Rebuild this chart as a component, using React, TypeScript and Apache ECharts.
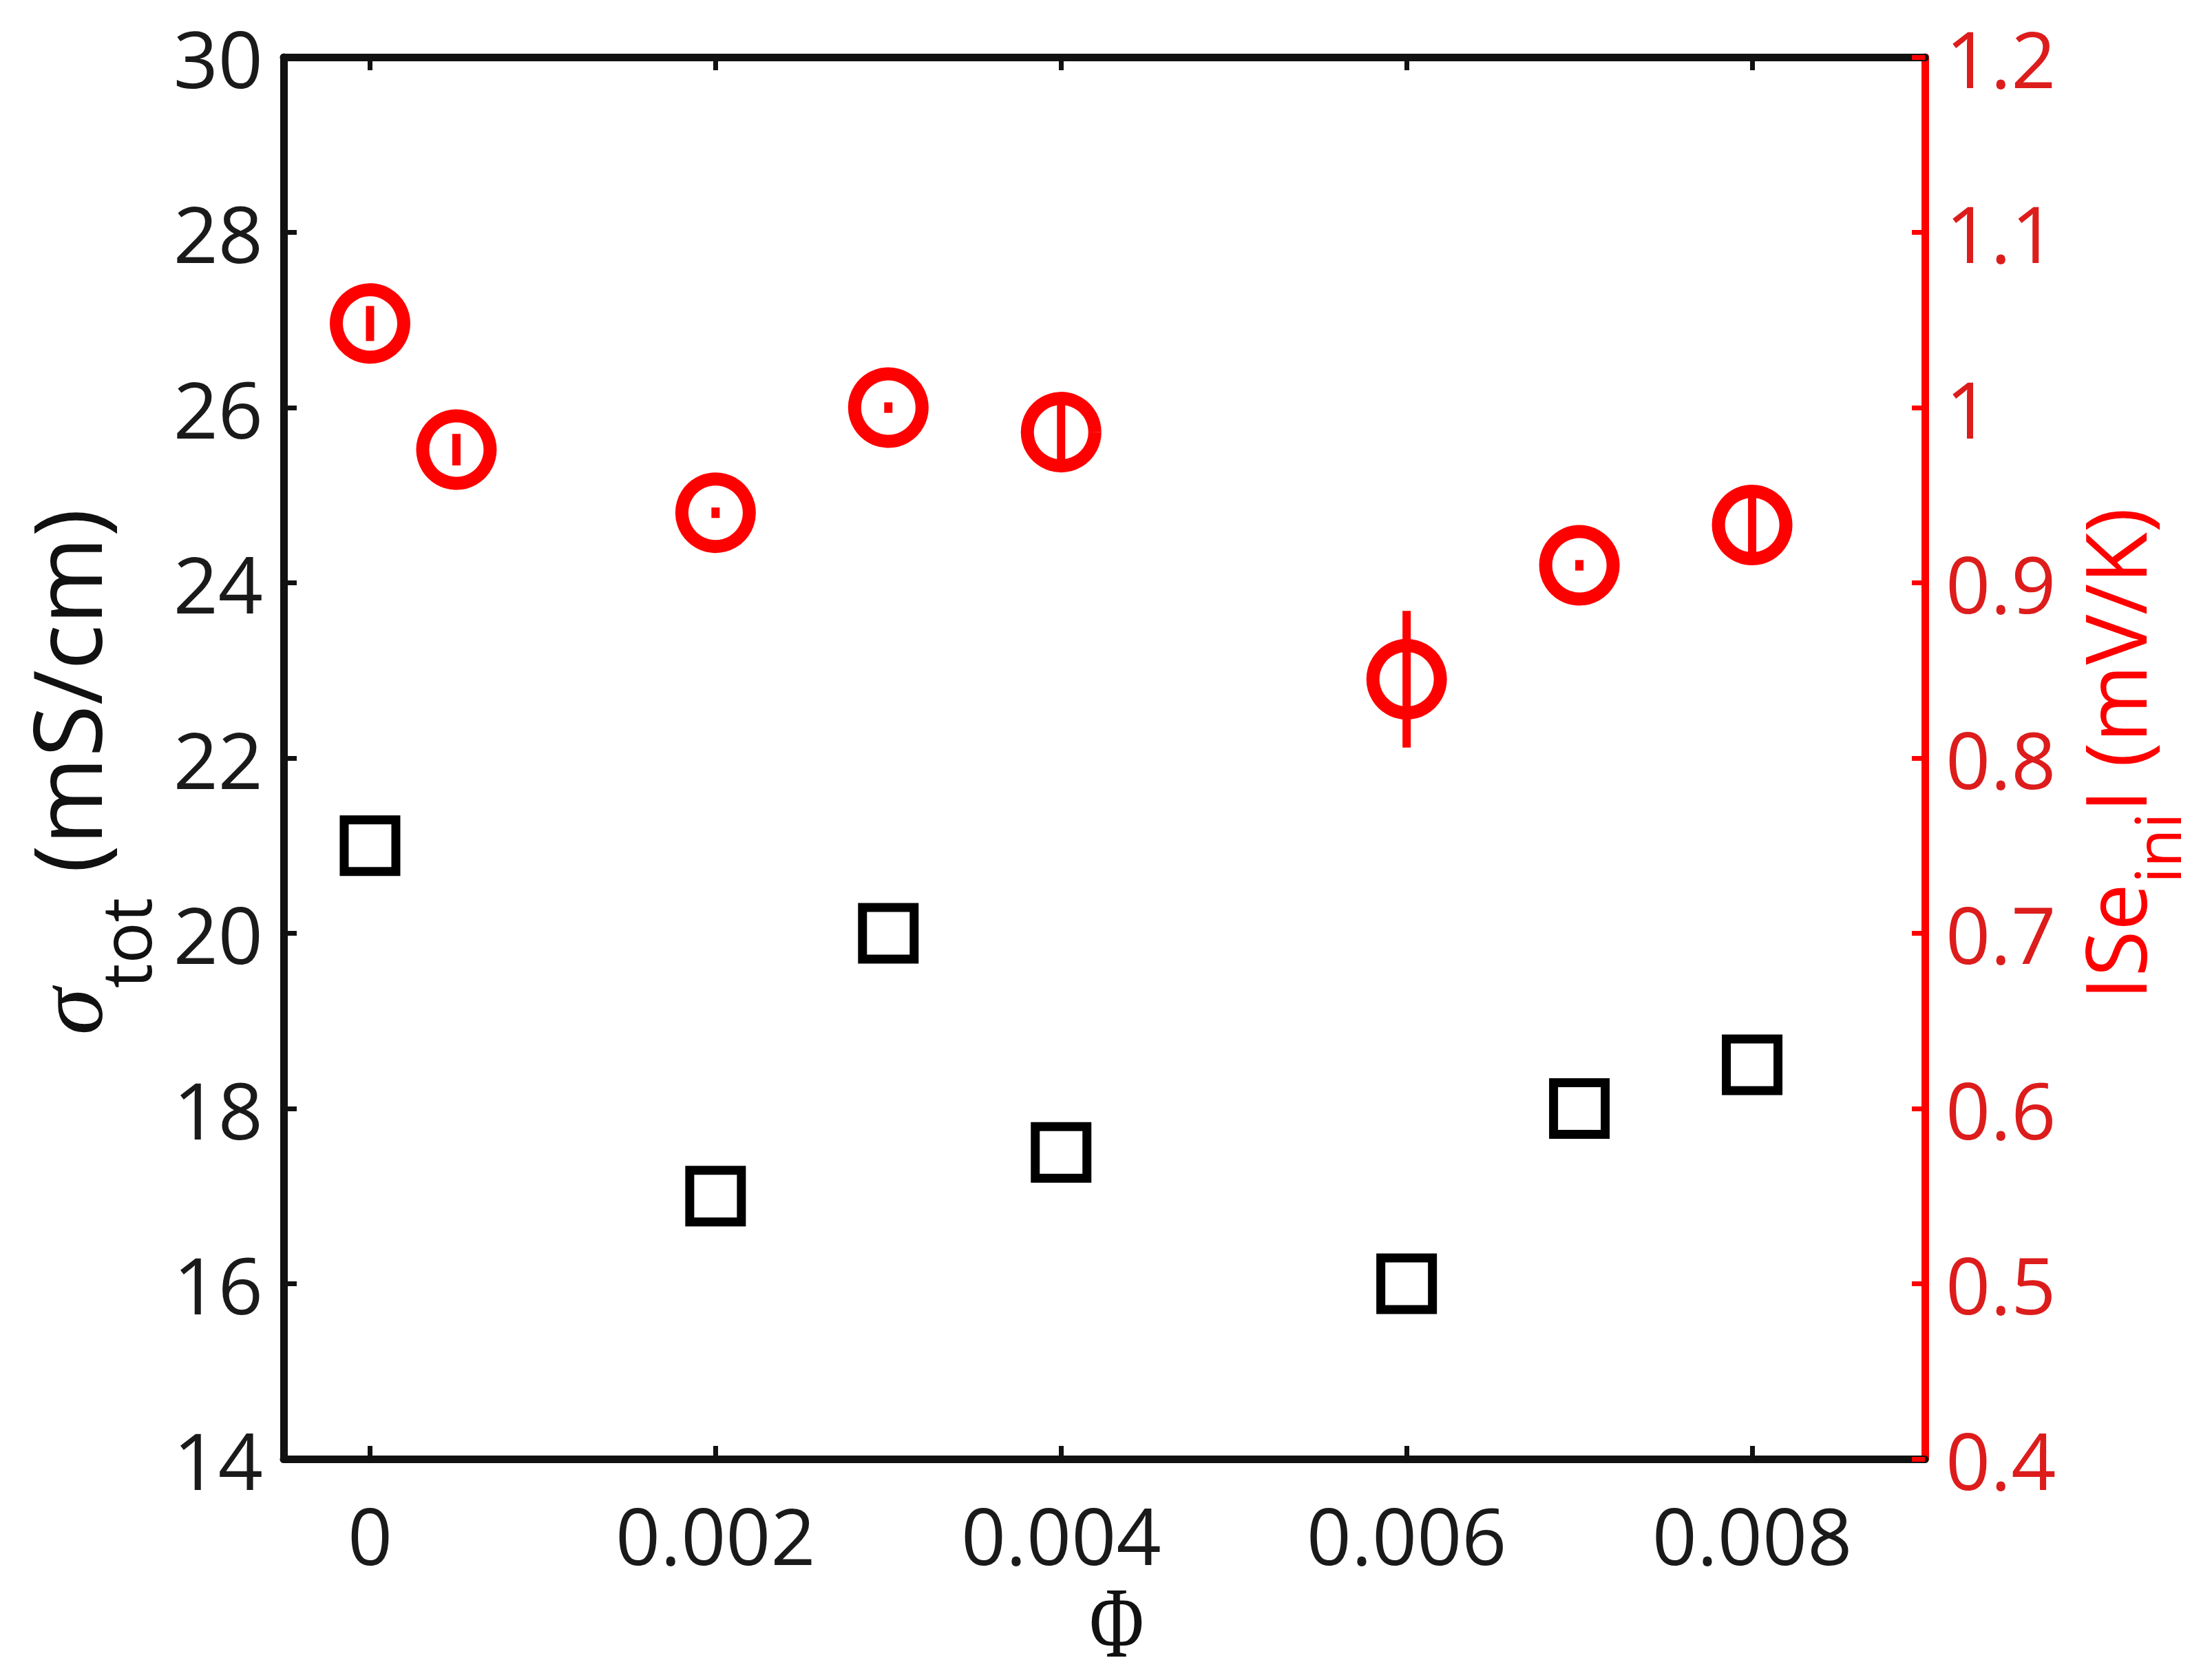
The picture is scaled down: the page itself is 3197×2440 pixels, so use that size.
import React, { useEffect, useRef } from 'react';
import * as echarts from 'echarts';

// ---- data ----
const phiSigma = [0, 0.002, 0.003, 0.004, 0.006, 0.007, 0.008];
const sigmaTot = [21, 17, 20, 17.5, 16, 18, 18.5];

const phiSe = [0, 0.0005, 0.002, 0.003, 0.004, 0.006, 0.007, 0.008];
const seIni = [1.048, 0.976, 0.94, 1.0, 0.986, 0.845, 0.91, 0.933];
const seErr = [0.01, 0.009, 0.003, 0.003, 0.021, 0.039, 0.003, 0.017];

const xTicks = [0, 0.002, 0.004, 0.006, 0.008];
const xTickLabels = ['0', '0.002', '0.004', '0.006', '0.008'];

const W = 3197;
const H = 2440;
const RED = '#ff0000';
const BLACK = '#111111';
const SANS = '"Open Sans", "Noto Sans", sans-serif';
const SERIF = '"Liberation Serif", "DejaVu Serif", serif';

function measure(txt: string, font: string): number {
  const c = document.createElement('canvas').getContext('2d');
  if (!c) return txt.length * 60;
  c.font = font;
  return c.measureText(txt).width;
}

type Piece = { text: string; size: number; family: string; italic?: boolean; dy: number };

function rotatedLabel(pieces: Piece[], cx: number, cy: number, color: string) {
  const widths = pieces.map((p) =>
    measure(p.text, `${p.italic ? 'italic ' : ''}${p.size}px ${p.family}`)
  );
  const total = widths.reduce((a, b) => a + b, 0);
  let pos = -total / 2;
  const children = pieces.map((p, i) => {
    const el = {
      type: 'text',
      x: pos,
      y: p.dy,
      style: {
        text: p.text,
        fontSize: p.size,
        fontFamily: p.family,
        fontStyle: p.italic ? 'italic' : 'normal',
        fill: color,
        align: 'left',
        verticalAlign: 'middle',
      },
    };
    pos += widths[i];
    return el;
  });
  return { type: 'group', x: cx, y: cy, rotation: Math.PI / 2, children };
}

export default function App() {
  const ref = useRef<HTMLDivElement>(null);

  useEffect(() => {
    document.body.style.margin = '0';
    document.body.style.overflow = 'hidden';
    if (!ref.current) return;
    const chart = echarts.init(ref.current, undefined, { renderer: 'svg', width: W, height: H });

    const leftName = rotatedLabel(
      [
        { text: 'σ', size: 138, family: SERIF, italic: true, dy: -46 },
        { text: 'tot', size: 100, family: SANS, dy: 34 },
        { text: ' (mS/cm)', size: 138, family: SANS, dy: -53 },
      ],
      147,
      1121,
      BLACK
    );
    const rightName = rotatedLabel(
      [
        { text: 'ISe', size: 122, family: SANS, dy: -47 },
        { text: 'ini', size: 92, family: SANS, dy: 14 },
        { text: 'I (mV/K)', size: 122, family: SANS, dy: -47 },
      ],
      3118,
      1095,
      RED
    );

    const xFmt = (v: number) => {
      const i = xTicks.findIndex((t) => Math.abs(t - v) < 1e-9);
      return i >= 0 ? xTickLabels[i] : '';
    };

    const option: any = {
      animation: false,
      backgroundColor: '#ffffff',
      grid: {
        left: 412,
        right: W - 2796,
        top: 83,
        bottom: H - 2119,
        containLabel: false,
        outerBoundsMode: 'none',
      },
      xAxis: [
        {
          type: 'value',
          position: 'bottom',
          min: -0.0005,
          max: 0.009,
          axisLine: { show: true, onZero: false, lineStyle: { color: BLACK, width: 11 } },
          axisTick: {
            show: true,
            inside: true,
            length: 19,
            customValues: xTicks,
            lineStyle: { color: BLACK, width: 7 },
          },
          axisLabel: {
            show: true,
            customValues: xTicks,
            formatter: xFmt,
            fontSize: 114,
            fontFamily: SANS,
            color: '#1a1a1a',
            margin: 52,
          },
          splitLine: { show: false },
        },
        {
          type: 'value',
          position: 'top',
          min: -0.0005,
          max: 0.009,
          axisLine: { show: true, onZero: false, lineStyle: { color: BLACK, width: 11 } },
          axisTick: {
            show: true,
            inside: true,
            length: 19,
            customValues: xTicks,
            lineStyle: { color: BLACK, width: 7 },
          },
          axisLabel: { show: false },
          splitLine: { show: false },
        },
      ],
      yAxis: [
        {
          type: 'value',
          position: 'left',
          min: 14,
          max: 30,
          interval: 2,
          axisLine: { show: true, onZero: false, lineStyle: { color: BLACK, width: 11 } },
          axisTick: { show: true, inside: true, length: 19, lineStyle: { color: BLACK, width: 7 } },
          axisLabel: { fontSize: 114, fontFamily: SANS, color: '#1a1a1a', margin: 30 },
          splitLine: { show: false },
        },
        {
          type: 'value',
          position: 'right',
          min: 0.4,
          max: 1.2,
          interval: 0.1,
          axisLine: { show: true, onZero: false, lineStyle: { color: RED, width: 11 } },
          axisTick: { show: true, inside: true, length: 19, lineStyle: { color: RED, width: 7 } },
          axisLabel: {
            fontSize: 114,
            fontFamily: SANS,
            color: '#dd1c1c',
            margin: 30,
            formatter: (v: number) => String(Math.round(v * 10) / 10),
          },
          splitLine: { show: false },
        },
      ],
      graphic: [
        leftName,
        rightName,
        {
          type: 'text',
          x: 1622,
          y: 2357,
          scaleX: 0.74,
          style: {
            text: 'Φ',
            fontSize: 146,
            fontFamily: SERIF,
            fill: BLACK,
            align: 'center',
            verticalAlign: 'middle',
          },
        },
      ],
      series: [
        {
          type: 'scatter',
          name: 'sigma',
          xAxisIndex: 0,
          yAxisIndex: 0,
          data: phiSigma.map((x, i) => [x, sigmaTot[i]]),
          symbol: 'rect',
          symbolSize: 75,
          itemStyle: { color: 'rgba(0,0,0,0)', borderColor: '#000000', borderWidth: 13, opacity: 1 },
          emphasis: { disabled: true },
          z: 2,
        },
        {
          type: 'scatter',
          name: 'Se',
          xAxisIndex: 0,
          yAxisIndex: 1,
          data: phiSe.map((x, i) => [x, seIni[i]]),
          symbol: 'circle',
          symbolSize: 98,
          itemStyle: { color: 'rgba(0,0,0,0)', borderColor: RED, borderWidth: 19, opacity: 1 },
          emphasis: { disabled: true },
          z: 3,
        },
        {
          type: 'custom',
          name: 'Se error',
          xAxisIndex: 0,
          yAxisIndex: 1,
          data: phiSe.map((x, i) => [x, seIni[i] - seErr[i], seIni[i] + seErr[i]]),
          encode: { x: 0, y: [1, 2] },
          renderItem: (params: any, api: any) => {
            const x = api.value(0);
            const lo = api.coord([x, api.value(1)]);
            const hi = api.coord([x, api.value(2)]);
            return {
              type: 'line',
              shape: { x1: lo[0], y1: lo[1], x2: hi[0], y2: hi[1] },
              style: { stroke: RED, lineWidth: 12 },
            };
          },
          z: 4,
        },
      ],
    };

    chart.setOption(option);
    return () => {
      chart.dispose();
    };
  }, []);

  return <div ref={ref} style={{ width: W, height: H }} />;
}
